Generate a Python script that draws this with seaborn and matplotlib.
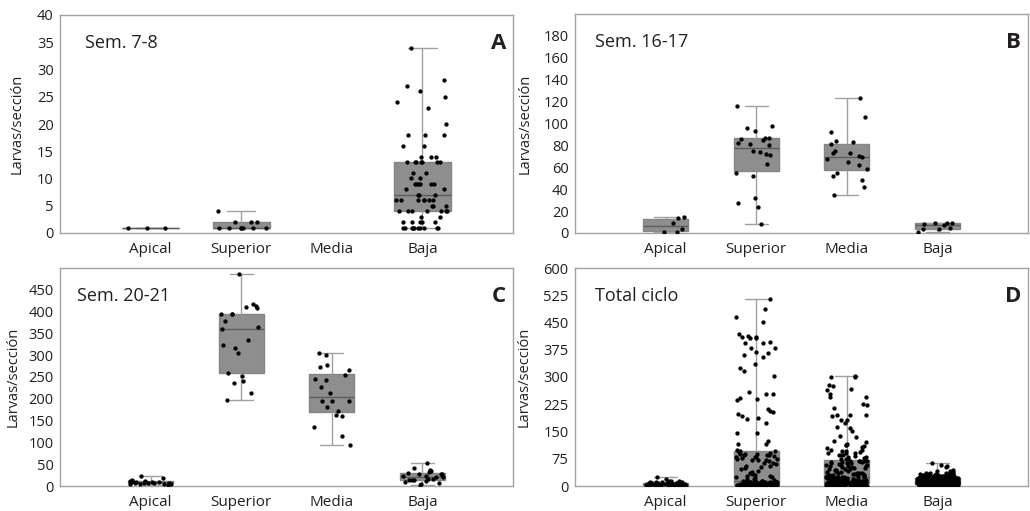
import numpy as np
import pandas as pd
import matplotlib
matplotlib.use("Agg")
import matplotlib.pyplot as plt
import seaborn as sns

# Categories (plant section)
secciones = ["Apical", "Superior", "Media", "Baja"]

# --- Sem. 7-8 ---
apical_a = [1, 1, 1]
superior_a = [1, 1, 1, 1, 1, 1, 1, 2, 2, 2, 4]
media_a = []
baja_a = [34, 28, 27, 26, 25, 24, 23, 20, 18, 18, 18, 16, 16, 14, 14, 14,
          13, 13, 13, 13, 13, 13, 13, 11, 11, 10, 10, 9, 9, 9, 9, 9, 9,
          8, 8, 7, 7, 7, 6, 6, 6, 6, 6, 6, 6, 5, 5, 5, 4, 4, 4, 4, 4, 4, 4,
          3, 3, 2, 2, 2, 2, 2, 1, 1, 1, 1, 1, 1, 1, 1, 1, 1]

# --- Sem. 16-17 ---
apical_b = [1, 1, 4, 9, 14, 15]
superior_b = [116, 98, 96, 93, 87, 87, 86, 85, 82, 81, 80, 75, 74, 72, 71,
              63, 55, 52, 32, 27, 24, 8]
media_b = [123, 106, 92, 84, 83, 81, 75, 73, 73, 70, 69, 68, 65, 62, 58,
           55, 52, 48, 42, 35]
baja_b = [9, 9, 9, 8, 7, 5, 4, 4, 1]

# --- Sem. 20-21 ---
apical_c = [24, 18, 14, 12, 12, 11, 10, 10, 9, 9, 8, 8, 7, 6, 6, 5, 5, 4, 4, 3]
superior_c = [486, 418, 413, 410, 408, 395, 394, 394, 379, 365, 360, 336,
              324, 316, 304, 259, 252, 240, 236, 213, 197]
media_c = [304, 301, 278, 274, 265, 254, 246, 244, 227, 214, 195, 195, 195,
           181, 173, 163, 160, 136, 115, 93]
baja_c = [53, 42, 37, 35, 33, 30, 28, 28, 27, 24, 22, 21, 20, 17, 16, 14,
          14, 13, 12, 10, 8, 5, 3]

# --- remaining weeks of the cycle (only in total) ---
apical_otras = [0, 0, 1, 1, 1, 1, 2, 2, 2, 2, 3, 3, 3, 3, 4, 4, 4, 5, 5, 5,
                6, 6, 7, 8, 10]
superior_otras = [515, 464, 452, 411, 406, 381, 368, 356, 253, 241, 207, 203,
                  193, 186, 184, 174, 145, 145, 125, 115,
                  95, 92, 88, 84, 80, 76, 72, 68, 64, 60, 55, 50, 46, 42, 38,
                  35, 31, 28, 25, 22, 20, 18, 16, 15,
                  14, 14, 13, 13, 12, 12, 12, 11, 11, 10, 10, 10, 9, 9, 9,
                  8, 8, 8, 8, 7, 7, 7, 7, 6, 6, 6, 6, 6, 5, 5, 5, 5, 5,
                  4, 4, 4, 4, 4, 4, 4, 4,
                  3, 3, 3, 3, 3, 3, 3, 3, 2, 2, 2, 2, 2, 2, 2, 2, 2, 2,
                  1, 1, 1, 1, 1, 1, 1, 1, 1, 1, 0, 0, 0, 0, 0]
media_otras = [300, 266, 223, 193, 182, 152, 138, 122, 113, 113, 110, 104,
               100, 99, 96, 95, 90, 90, 85, 85, 80, 76,
               70, 68, 67, 65, 64, 62, 60, 59, 57, 55, 54, 52, 50, 49, 47,
               46, 45, 43, 42, 40, 39, 38, 37, 36, 35, 34, 33, 32, 31, 30,
               30, 29, 29, 28, 28, 27, 27, 26, 26, 26,
               25, 25, 24, 24, 23, 23, 22, 22, 21, 21, 20, 20, 20, 19, 19,
               18, 18, 18, 17, 17, 16, 16, 16, 15, 15, 15, 14, 14, 14, 13,
               13, 13, 12, 12, 12, 12, 11, 11, 11, 11, 10, 10, 10, 10,
               9, 9, 9, 9, 9, 9, 9,
               8, 8, 8, 8, 8, 7, 7, 7, 7, 7, 6, 6, 6, 6, 6, 6, 5, 5, 5, 5,
               5, 5, 4, 4, 4, 4, 4, 4, 3, 3, 3, 3, 3, 3, 2, 2, 2, 2, 2, 2,
               1, 1, 1, 1, 1, 0, 0, 0, 0, 0, 0]
baja_otras = [63, 58, 55, 45, 40, 38, 36,
              35, 34, 33, 33, 32, 31, 31, 30, 30, 29, 29, 28, 28, 27, 27, 27,
              26, 26, 26, 25, 25, 25, 24, 24, 24, 23, 23, 23, 23,
              22, 22, 22, 21, 21, 21, 20, 20, 20, 19, 19, 19, 18, 18, 18, 17,
              17, 17, 16, 16, 16, 15, 15, 15, 15, 14, 14, 14, 14, 13, 13, 13,
              13, 12, 12, 12, 12, 11, 11, 11, 11,
              10, 10, 10, 10, 9, 9, 9, 9, 8, 8, 8, 8, 7, 7, 7, 7, 6, 6, 6, 6,
              5, 5, 5, 5, 4, 4, 4, 4, 3, 3, 3, 3, 2, 2, 2, 2, 1, 1, 1, 1,
              0, 0, 0, 0]

# Total ciclo = all samplings together
apical_d = apical_a + apical_b + apical_c + apical_otras
superior_d = superior_a + superior_b + superior_c + superior_otras
media_d = media_a + media_b + media_c + media_otras
baja_d = baja_a + baja_b + baja_c + baja_otras

panels = [
    ("Sem. 7-8", "A", [apical_a, superior_a, media_a, baja_a],
     [0, 5, 10, 15, 20, 25, 30, 35, 40], 40),
    ("Sem. 16-17", "B", [apical_b, superior_b, media_b, baja_b],
     [0, 20, 40, 60, 80, 100, 120, 140, 160, 180], 200),
    ("Sem. 20-21", "C", [apical_c, superior_c, media_c, baja_c],
     [0, 50, 100, 150, 200, 250, 300, 350, 400, 450], 500),
    ("Total ciclo", "D", [apical_d, superior_d, media_d, baja_d],
     [0, 75, 150, 225, 300, 375, 450, 525, 600], 600),
]


def to_long(groups):
    rows = []
    for name, vals in zip(secciones, groups):
        for v in vals:
            rows.append({"seccion": name, "larvas": v})
    return pd.DataFrame(rows, columns=["seccion", "larvas"])


sns.set_style("white")
plt.rcParams["font.family"] = ["Open Sans", "DejaVu Sans"]

TXT = "#231f20"
EDGE = "#a3a3a3"

fig = plt.figure(figsize=(10.3, 5.11), dpi=100)
W, H = 1030, 511
# left, top, right, bottom in pixels
boxes_px = [(60, 15, 513, 233), (575, 14, 1028, 233),
            (60, 268, 513, 486), (575, 268, 1028, 486)]
label_x = [-0.077, -0.093, -0.088, -0.095]
title_x = [0.055, 0.044, 0.037, 0.044]
box_w = [0.63, 0.5, 0.5, 0.5]

np.random.seed(7)
for i, (title, letter, groups, ticks, ytop) in enumerate(panels):
    l, t, r, b = boxes_px[i]
    ax = fig.add_axes([l / W, 1 - b / H, (r - l) / W, (b - t) / H])
    df = to_long(groups)

    sns.boxplot(data=df, x="seccion", y="larvas", order=secciones, ax=ax,
                whis=(0, 100), width=box_w[i], showfliers=False,
                color="#8e8e8e", saturation=1, linecolor="#858585",
                linewidth=1.0,
                medianprops=dict(color="#5c5c5c", linewidth=1.0),
                whiskerprops=dict(color="#a0a0a0", linewidth=1.0),
                capprops=dict(color="#a0a0a0", linewidth=1.0))
    sns.stripplot(data=df, x="seccion", y="larvas", order=secciones, ax=ax,
                  jitter=box_w[i] * 0.46, color="black", size=3.1,
                  linewidth=0, zorder=3)

    ax.set_xlim(-1, 4)
    ax.set_ylim(0, ytop)
    ax.set_yticks(ticks)
    ax.set_xlabel("")
    ax.set_ylabel("Larvas/sección", fontsize=10.5, color=TXT)
    ax.yaxis.set_label_coords(label_x[i], 0.5)
    ax.tick_params(axis="y", labelsize=10.5, labelcolor=TXT, color=EDGE,
                   length=3, width=0.8, pad=1.5)
    ax.tick_params(axis="x", labelsize=11, labelcolor=TXT, color=EDGE,
                   length=2.5, width=0.8, pad=4)
    for s in ax.spines.values():
        s.set_color(EDGE)
        s.set_linewidth(1.0)

    ax.text(title_x[i], 0.87, title, transform=ax.transAxes, fontsize=13,
            color=TXT, ha="left", va="center")
    ax.text(0.985, 0.87, letter, transform=ax.transAxes, fontsize=16,
            fontweight="bold", color=TXT, ha="right", va="center")

fig.savefig("out.png", dpi=100)
